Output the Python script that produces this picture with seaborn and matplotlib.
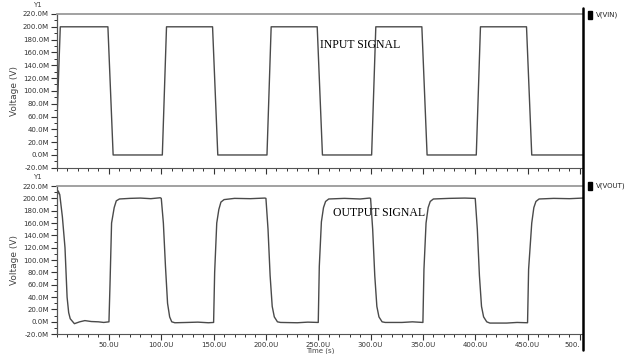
import matplotlib
matplotlib.use("Agg")
import matplotlib.pyplot as plt
import seaborn as sns
from matplotlib.lines import Line2D
from matplotlib.patches import Rectangle
from matplotlib.ticker import MultipleLocator

# tijd in us, spanning in mV
t_vin = [0, 3.5, 49, 54, 101, 105, 149, 154, 201, 205, 249, 254, 301, 305,
         349, 354, 401, 405, 449, 454, 503]
v_vin = [40, 200, 200, 0, 0, 200, 200, 0, 0, 200, 200, 0, 0, 200,
         200, 0, 0, 200, 200, 0, 0]

t_vout = [0, 1.5, 3, 5.5, 8, 10, 11.5, 13, 17, 22, 27, 33, 40, 45, 50,
          51, 52.5, 55, 57, 60, 70, 80, 90, 99,
          100, 102, 104, 106, 108, 110, 113, 125, 135, 145, 150,
          151, 153, 155, 157, 160, 170, 185, 199,
          200, 202, 204, 206, 208, 211, 214, 230, 240, 250,
          251, 253, 255, 257, 260, 275, 290, 299,
          300, 302, 304, 306, 308, 311, 314, 330, 340, 350,
          351, 353, 355, 357, 360, 375, 390, 399,
          400, 402, 404, 406, 408, 411, 414, 430, 440, 450,
          451, 454, 456, 458, 461, 475, 490, 503]
v_vout = [200, 212, 206, 170, 120, 40, 15, 5, -3, 0, 2, 0.5, 0, -1, 0,
          60, 160, 185, 196, 199, 200, 200.5, 199.5, 201,
          200, 160, 90, 30, 8, 0, -1.5, -1, -0.5, -1.5, -1,
          80, 160, 182, 194, 198, 200, 199.5, 200.5,
          200, 150, 75, 25, 8, 0, -1, -1.5, -0.5, -1,
          90, 162, 185, 195, 199, 200, 199, 200.5,
          200, 150, 75, 25, 8, 0, -1, -1, 0, -1,
          85, 160, 185, 195, 199, 200, 200.5, 200,
          200, 150, 75, 25, 8, 0, -2, -2, -1, -1.5,
          85, 160, 185, 195, 199, 200, 199.5, 200.5]

y_ticks = list(range(-20, 221, 20))
x_ticks = list(range(50, 501, 50))
x_labels = [f"{x}.0U" for x in x_ticks[:-1]] + ["500."]

sns.set_style("ticks")
plt.rcParams["font.family"] = ["DejaVu Sans"]

fig = plt.figure(figsize=(6.32, 3.54), dpi=100)
ax1 = fig.add_axes([0.0896, 0.526, 0.8329, 0.4345])
ax2 = fig.add_axes([0.0896, 0.056, 0.8329, 0.4185])

sns.lineplot(x=t_vin, y=v_vin, ax=ax1, color="#4a4a4a", lw=1.0, estimator=None, sort=False)
sns.lineplot(x=t_vout, y=v_vout, ax=ax2, color="#4a4a4a", lw=1.0, estimator=None, sort=False)

for ax in (ax1, ax2):
    ax.set_xlim(0, 503)
    ax.set_ylim(-20, 220)
    ax.set_yticks(y_ticks)
    ax.set_yticklabels([f"{v:.1f}M" for v in y_ticks])
    ax.yaxis.set_minor_locator(MultipleLocator(10))
    ax.set_xticks(x_ticks)
    ax.xaxis.set_minor_locator(MultipleLocator(10))
    ax.tick_params(axis="both", which="major", direction="out", length=4,
                   width=0.8, labelsize=5, colors="#333333", pad=1.5)
    ax.tick_params(axis="both", which="minor", direction="out", length=2,
                   width=0.7, colors="#333333")
    ax.spines["right"].set_visible(False)
    ax.spines["top"].set_color("#9a9a9a")
    ax.spines["top"].set_linewidth(1.3)
    ax.spines["left"].set_color("#555555")
    ax.spines["bottom"].set_color("#555555")
    ax.spines["left"].set_linewidth(0.9)
    ax.spines["bottom"].set_linewidth(0.8)
    ax.set_ylabel("Voltage (V)", fontsize=6.5, color="#444444", labelpad=3)

ax1.set_xticklabels([])
ax2.set_xticklabels(x_labels)
ax2.get_xticklabels()[-1].set_horizontalalignment("right")

ax1.text(252, 172, "INPUT SIGNAL", family="Liberation Serif", fontsize=8.5,
         color="black", va="center", ha="left")
ax2.text(264, 176, "OUTPUT SIGNAL", family="Liberation Serif", fontsize=8.5,
         color="black", va="center", ha="left")

fig.text(37 / 632, 1 - 5 / 354, "Y1", fontsize=5, color="#444444", ha="center", va="center")
fig.text(37 / 632, 1 - 177 / 354, "Y1", fontsize=5, color="#444444", ha="center", va="center")
fig.text(320 / 632, 0.5 / 354, "Time (s)", fontsize=5, color="#444444", ha="center", va="bottom")

# dikke zwarte lijn rechts en legenda-blokjes
fig.add_artist(Line2D([583 / 632, 583 / 632], [1 - 8 / 354, 1 - 350 / 354],
                      color="black", lw=1.8, transform=fig.transFigure))
for ypix, name in [(15, "V(VIN)"), (186, "V(VOUT)")]:
    fig.add_artist(Rectangle((588 / 632, 1 - (ypix + 4) / 354), 3.5 / 632, 8 / 354,
                             color="black", transform=fig.transFigure))
    fig.text(596 / 632, 1 - ypix / 354, name, fontsize=5, color="#222222",
             ha="left", va="center")

fig.savefig("out.png", dpi=100)
